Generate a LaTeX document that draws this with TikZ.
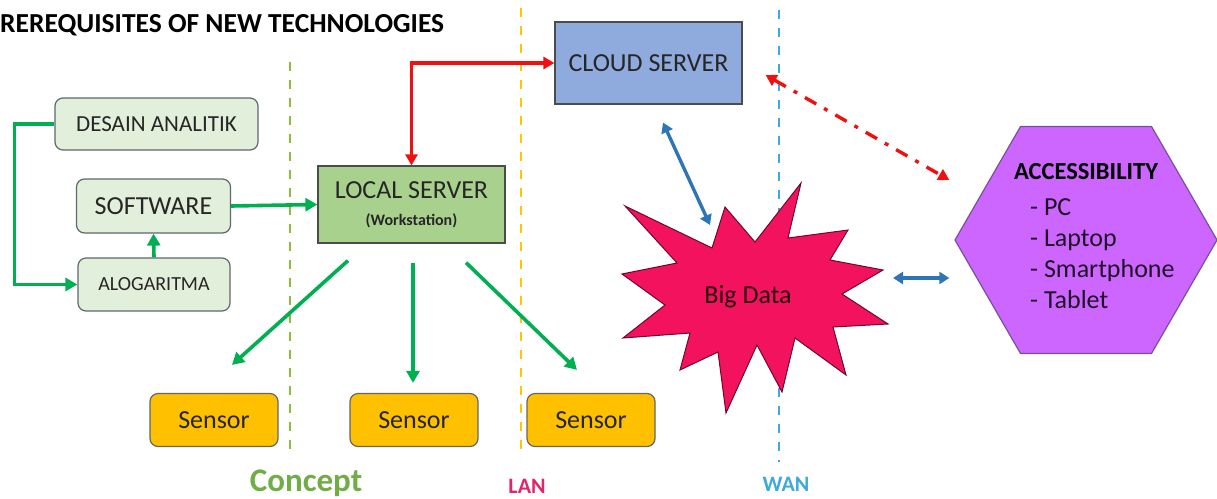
\documentclass[tikz,border=0pt]{standalone}
\usepackage{fontspec}
\setmainfont{Carlito}
\usetikzlibrary{shapes,arrows.meta,calc,positioning}
\definecolor{lightbox}{HTML}{E2EFDA}
\definecolor{boxline}{HTML}{5F6770}
\definecolor{localfill}{HTML}{A9D18E}
\definecolor{cloudfill}{HTML}{8FAADC}
\definecolor{sensorfill}{HTML}{FFC000}
\definecolor{arrgreen}{HTML}{00B050}
\definecolor{arrblue}{HTML}{2E75B6}
\definecolor{arrred}{HTML}{F01010}
\definecolor{starfill}{HTML}{F2125E}
\definecolor{hexfill}{HTML}{CC66FF}
\definecolor{hexline}{HTML}{7A4F9A}
\definecolor{conceptcol}{HTML}{70AD47}
\definecolor{lancol}{HTML}{E2246E}
\definecolor{wancol}{HTML}{3FA9D9}
\tikzset{
    x=1pt,y=-1pt,
    lightbox/.style ={rectangle, draw=boxline, fill=lightbox, rounded corners=8pt, line width=1.2pt, inner sep=0pt, text=black!85},
    server/.style ={rectangle, draw=black!70, line width=1.2pt, inner sep=0pt, text=black!85},
    sensor/.style ={rectangle, draw=black!60, fill=sensorfill, rounded corners=8pt, line width=1.2pt, minimum width=128pt, minimum height=53pt, font=\fontsize{26}{30}\selectfont, text=black!85},
    garrow/.style={draw=arrgreen, line width=3.6pt, -{Triangle[length=12pt,width=13pt]}},
    barrow/.style={draw=arrblue, line width=3.4pt, {Triangle[length=10pt,width=12pt]}-{Triangle[length=10pt,width=12pt]}},
    rarrow/.style={draw=arrred, line width=3.4pt, {Triangle[length=11pt,width=12pt]}-{Triangle[length=11pt,width=12pt]}},
    divider/.style={line width=2.4pt, dash pattern=on 9pt off 9pt}
}

\begin{document}
\begin{tikzpicture}
    \useasboundingbox (0,0) rectangle (1217,498);
    \node[anchor=base west, inner sep=0pt, font=\bfseries\fontsize{27.5}{32}\selectfont] (title) at (0,32) {REREQUISITES OF NEW TECHNOLOGIES};

    % dividers
    \draw[divider, draw=conceptcol!80!yellow] (290,62) -- (290,458);
    \draw[divider, draw=sensorfill!90!yellow] (521,8) -- (521,458);
    \draw[divider, draw=wancol] (779,10) -- (779,462);

    \node[lightbox, minimum width=203pt, minimum height=52pt, font=\fontsize{23}{26}\selectfont] (desain) at (156.5,124) {DESAIN ANALITIK};
    \node[lightbox, minimum width=154pt, minimum height=54pt, font=\fontsize{26}{30}\selectfont] (software) at (153.5,206) {SOFTWARE};
    \node[lightbox, minimum width=152pt, minimum height=53pt, font=\fontsize{20}{24}\selectfont] (algo) at (154,284.5) {ALOGARITMA};

    \node[server, fill=localfill, minimum width=187pt, minimum height=77pt, align=center, font=\fontsize{16}{22}\selectfont] (local) at (411.5,204.5)
        {{\fontsize{26}{26}\selectfont LOCAL SERVER}\\[5pt]{\bfseries\fontsize{16}{18}\selectfont (Workstation)}};
    \node[server, fill=cloudfill, minimum width=187pt, minimum height=82pt, font=\fontsize{26}{30}\selectfont] (cloud) at (648.5,63) {CLOUD SERVER};

    \node[sensor] (s1) at (214,420) {Sensor};
    \node[sensor] (s2) at (414,420) {Sensor};
    \node[sensor] (s3) at (591,420) {Sensor};

    % big data star
    \coordinate (bd) at (748,297);
    \begin{scope}[shift={(bd)}]
    \draw[fill=starfill, draw=black!55!starfill, line width=1pt, line join=miter]
        (-123,-91) -- (-36,-49) -- (-23,-90) -- (7,-55) -- (53,-114) -- (40,-59)
        -- (100,-67) -- (82,-37) -- (135,-27) -- (94,-3) -- (140,27) -- (85,30)
        -- (98,78) -- (47,41) -- (34,95) -- (9,48) -- (-22,116) -- (-30,55)
        -- (-68,73) -- (-58,36) -- (-125,41) -- (-83,8) -- (-126,-23) -- (-71,-34) -- cycle;
    \end{scope}
    \node[font=\fontsize{26}{30}\selectfont, text=black!60!starfill!40!black] (bigdata) at (bd) {Big Data};

    % accessibility
    \node[regular polygon, regular polygon sides=6, minimum size=262pt, inner sep=0pt, fill=hexfill, draw=hexline, line width=1.2pt] (acc) at (1086,240) {};
    \node[font=\bfseries\fontsize{24.5}{28}\selectfont] (acctitle) at (1086,172) {ACCESSIBILITY};
    \node[anchor=north west, align=left, inner sep=0pt, text=black!85!hexfill, font=\fontsize{26}{31}\selectfont] (acclist) at (1030,198)
        {- PC\\- Laptop\\- Smartphone\\- Tablet};

    % green links
    \draw[garrow] (desain.west) -- ++(-40,0) |- (algo.west);
    \draw[garrow] (algo.north) -- (software.south);
    \draw[garrow] (software.east) -- (local.west);
    \draw[garrow] ([xshift=-63.5pt,yshift=-17pt]local.south) -- ([xshift=18pt,yshift=28pt]s1.north);
    \draw[garrow] ([xshift=1.5pt,yshift=-19pt]local.south) -- ([xshift=-1pt,yshift=10pt]s2.north);
    \draw[garrow] ([xshift=54.5pt,yshift=-19pt]local.south) -- ([xshift=-14pt,yshift=23pt]s3.north);

    % red and blue links
    \draw[rarrow] (local.north) |- (cloud.west);
    \draw[rarrow, dash pattern=on 13pt off 9pt on 4pt off 9pt] ([xshift=23pt,yshift=-12pt]cloud.east) -- ([xshift=-5pt,yshift=60pt]acc.west);
    \draw[barrow] ([xshift=14.5pt,yshift=-18pt]cloud.south) -- ([xshift=-38pt,yshift=72pt]bigdata.center);
    \draw[barrow] ([xshift=145pt,yshift=19pt]bigdata.center) -- ([xshift=-5pt,yshift=-38pt]acc.west);

    % zone labels
    \node[anchor=base, inner sep=0pt, font=\bfseries\fontsize{33}{36}\selectfont, text=conceptcol] (concept) at (306,491) {Concept};
    \node[font=\bfseries\fontsize{22}{26}\selectfont, text=lancol] (lan) at (527,486) {LAN};
    \node[font=\bfseries\fontsize{22}{26}\selectfont, text=wancol] (wan) at (786,484) {WAN};
\end{tikzpicture}
\end{document}
